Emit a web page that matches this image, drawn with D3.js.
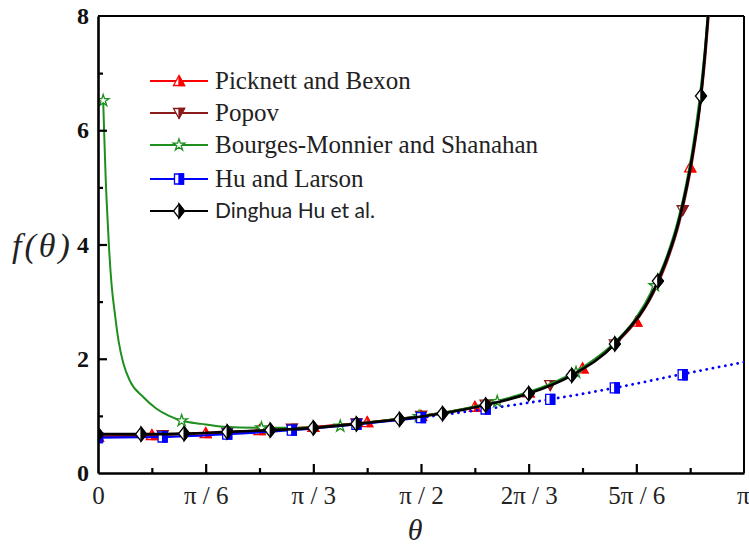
<!DOCTYPE html>
<html>
<head>
<meta charset="utf-8">
<script src="https://cdn.jsdelivr.net/npm/d3@7/dist/d3.min.js"></script>
<style>
  html, body { margin: 0; padding: 0; background: #fff; }
  svg { display: block; }
</style>
</head>
<body>
<svg id="chart" width="749" height="547"></svg>
<script>
// ---------- data (theta in units of pi) ----------
const xTickValues = [0, 1/6, 1/3, 1/2, 2/3, 5/6, 1];
const xTickLabels = ["0", "π / 6", "π / 3", "π / 2", "2π / 3", "5π / 6", "π"];
const xMinorTicks = [1/12, 3/12, 5/12, 7/12, 9/12, 11/12];
const yTickValues = [0, 2, 4, 6, 8];
const yMinorTicks = [1, 3, 5, 7];

const seriesNames = ["Picknett and Bexon", "Popov", "Bourges-Monnier and Shanahan", "Hu and Larson", "Dinghua Hu et al."];

// Picknett and Bexon
const pbTheta = [0, 0.05, 0.1, 0.15, 0.2, 0.25, 0.3, 0.35, 0.4, 0.45, 0.5, 0.55, 0.6, 0.65, 0.7, 0.75, 0.8, 0.83, 0.86, 0.88, 0.9, 0.91, 0.92, 0.93, 0.94, 0.95];
const pbF     = [0.637, 0.653, 0.672, 0.694, 0.719, 0.749, 0.783, 0.824, 0.872, 0.930, 1.000, 1.087, 1.201, 1.349, 1.547, 1.829, 2.258, 2.64, 3.19, 3.71, 4.44, 4.93, 5.54, 6.32, 7.37, 8.84];
const pbMarkTheta = [0, 1/12, 2/12, 3/12, 4/12, 5/12, 6/12, 7/12, 8/12, 9/12, 10/12, 11/12];
const pbMarkF     = [0.637, 0.665, 0.70, 0.749, 0.81, 0.89, 1.0, 1.16, 1.41, 1.83, 2.65, 5.35];

// Popov
const popTheta = [0, 0.05, 0.1, 0.15, 0.2, 0.25, 0.3, 0.35, 0.4, 0.45, 0.5, 0.55, 0.6, 0.65, 0.7, 0.75, 0.8, 0.83, 0.86, 0.88, 0.9, 0.91, 0.92, 0.93, 0.94, 0.95];
const popF     = [0.637, 0.648, 0.664, 0.684, 0.708, 0.738, 0.775, 0.818, 0.868, 0.928, 0.998, 1.085, 1.198, 1.345, 1.54, 1.82, 2.25, 2.61, 3.15, 3.67, 4.38, 4.87, 5.46, 6.22, 7.25, 8.7];
const popMarkTheta = [0.1, 0.2, 0.3, 0.4, 0.5, 0.6, 0.7, 0.8, 0.905];
const popMarkF     = [0.664, 0.708, 0.775, 0.868, 0.998, 1.198, 1.54, 2.25, 4.6];

// Bourges-Monnier and Shanahan
const bmsTheta = [0.008, 0.010, 0.012, 0.015, 0.017, 0.021, 0.026, 0.032, 0.039, 0.05, 0.07, 0.09, 0.11, 0.13, 0.16, 0.194, 0.25, 0.3, 0.35, 0.4, 0.45, 0.5, 0.55, 0.6, 0.65, 0.7, 0.75, 0.8, 0.83, 0.86, 0.88, 0.9, 0.91, 0.92, 0.93, 0.94, 0.95];
const bmsF     = [6.52, 5.8, 5.13, 4.4, 3.96, 3.3, 2.8, 2.3, 1.93, 1.6, 1.33, 1.13, 1.0, 0.916, 0.86, 0.81, 0.79, 0.79, 0.81, 0.86, 0.93, 1.0, 1.09, 1.21, 1.36, 1.56, 1.85, 2.29, 2.67, 3.25, 3.78, 4.52, 5.03, 5.65, 6.45, 7.5, 9.0];
const bmsMarkTheta = [0.008, 0.1295, 0.253, 0.375, 0.497, 0.618, 0.74, 0.862];
const bmsMarkF     = [6.52, 0.916, 0.79, 0.82, 0.99, 1.25, 1.76, 3.28];

// Hu and Larson (solid up to pi/2, dotted beyond)
const hlTheta = [0, 0.1, 0.2, 0.3, 0.4, 0.5, 0.6, 0.7, 0.8, 0.9, 1.0];
const hlF     = [0.62, 0.63, 0.68, 0.75, 0.85, 0.97, 1.12, 1.29, 1.49, 1.72, 1.94];
const hlSolidEnd = 0.5;
const hlMarkTheta = [0, 0.1, 0.2, 0.3, 0.4, 0.5, 0.6, 0.7, 0.8, 0.905];
const hlMarkF     = [0.62, 0.63, 0.68, 0.75, 0.85, 0.97, 1.12, 1.29, 1.49, 1.72];

// Dinghua Hu et al.
const dhTheta = [0, 1/15, 2/15, 3/15, 4/15, 5/15, 6/15, 7/15, 8/15, 9/15, 10/15, 11/15, 12/15, 13/15, 0.9, 0.92, 14/15, 0.94, 0.95];
const dhF     = [0.68, 0.68, 0.69, 0.72, 0.75, 0.79, 0.86, 0.94, 1.04, 1.19, 1.39, 1.71, 2.26, 3.36, 4.45, 5.55, 6.6, 7.4, 8.8];
const dhMarkTheta = [0, 1/15, 2/15, 3/15, 4/15, 5/15, 6/15, 7/15, 8/15, 9/15, 10/15, 11/15, 12/15, 13/15, 14/15];
const dhMarkF     = [0.68, 0.68, 0.69, 0.72, 0.75, 0.79, 0.86, 0.94, 1.04, 1.19, 1.39, 1.71, 2.26, 3.36, 6.6];

// ---------- layout ----------
const W = 749, H = 547;
const M = { left: 98, top: 16, right: 5, bottom: 74 };
const iw = W - M.left - M.right;   // 646
const ih = H - M.top - M.bottom;   // 457

const svg = d3.select("#chart");
const x = d3.scaleLinear().domain([0, 1]).range([0, iw]);
const y = d3.scaleLinear().domain([0, 8]).range([ih, 0]);

const g = svg.append("g").attr("transform", `translate(${M.left},${M.top})`);

svg.append("defs").append("clipPath").attr("id", "plotclip")
  .append("rect").attr("x", 0).attr("y", 0).attr("width", iw).attr("height", ih);

// frame (top and right)
g.append("line").attr("x1", 0).attr("x2", iw).attr("y1", 0).attr("y2", 0)
  .attr("stroke", "#000").attr("stroke-width", 2);
g.append("line").attr("x1", iw).attr("x2", iw).attr("y1", 0).attr("y2", ih)
  .attr("stroke", "#000").attr("stroke-width", 2);

// ---------- markers ----------
const shapes = {
  up:      { full: "M-5.5,4.5L5.5,4.5L0,-5.5Z", half: "M0,-5.5L5.5,4.5L0,4.5Z" },
  down:    { full: "M-5.5,-4.5L5.5,-4.5L0,5.5Z", half: "M0,5.5L5.5,-4.5L0,-4.5Z" },
  square:  { full: "M-4.5,-5L4.5,-5L4.5,5L-4.5,5Z", half: "M0,-5L4.5,-5L4.5,5L0,5Z" },
  diamond: { full: "M0,-7L5.5,0L0,7L-5.5,0Z", half: "M0,-7L5.5,0L0,7Z" },
  star:    { full: d3.symbol(d3.symbolStar, 42)(), half: null }
};

function drawMarker(sel, shape, color, cx, cy) {
  const mg = sel.append("g").attr("transform", `translate(${cx},${cy})`);
  mg.append("path").attr("d", shapes[shape].full)
    .attr("fill", "#fff").attr("stroke", color).attr("stroke-width", 1.3);
  if (shapes[shape].half) {
    mg.append("path").attr("d", shapes[shape].half)
      .attr("fill", color).attr("stroke", color).attr("stroke-width", 1.3);
  }
}

const lineGen = d3.line().x(d => x(d[0])).y(d => y(d[1])).curve(d3.curveMonotoneX);
const plot = g.append("g").attr("clip-path", "url(#plotclip)");

function zip(a, b) { return a.map((v, i) => [v, b[i]]); }

const series = [
  { name: seriesNames[0], color: "#ff0000", width: 2,   shape: "up",
    line: zip(pbTheta, pbF), marks: zip(pbMarkTheta, pbMarkF) },
  { name: seriesNames[1], color: "#8b1a1a", width: 2,   shape: "down",
    line: zip(popTheta, popF), marks: zip(popMarkTheta, popMarkF) },
  { name: seriesNames[2], color: "#1f8f1f", width: 2,   shape: "star",
    line: zip(bmsTheta, bmsF), marks: zip(bmsMarkTheta, bmsMarkF) },
  { name: seriesNames[3], color: "#0000ff", width: 2.2, shape: "square",
    line: zip(hlTheta, hlF), marks: zip(hlMarkTheta, hlMarkF), dottedFrom: hlSolidEnd },
  { name: seriesNames[4], color: "#000000", width: 2.6, shape: "diamond",
    line: zip(dhTheta, dhF), marks: zip(dhMarkTheta, dhMarkF) }
];

series.forEach(s => {
  if (s.dottedFrom !== undefined) {
    const solid = s.line.filter(d => d[0] <= s.dottedFrom);
    const dotted = s.line.filter(d => d[0] >= s.dottedFrom);
    plot.append("path").datum(solid).attr("d", lineGen)
      .attr("fill", "none").attr("stroke", s.color).attr("stroke-width", s.width);
    plot.append("path").datum(dotted).attr("d", lineGen)
      .attr("fill", "none").attr("stroke", s.color).attr("stroke-width", 2.8)
      .attr("stroke-linecap", "round").attr("stroke-dasharray", "0.1 6.2");
  } else {
    plot.append("path").datum(s.line).attr("d", lineGen)
      .attr("fill", "none").attr("stroke", s.color).attr("stroke-width", s.width);
  }
  s.marks.forEach(d => drawMarker(plot, s.shape, s.color, x(d[0]), y(d[1])));
});

// ---------- axes ----------
const xAxis = d3.axisBottom(x).tickValues(xTickValues).tickFormat((d, i) => xTickLabels[i])
  .tickSizeInner(-9).tickSizeOuter(0).tickPadding(20);
const xa = g.append("g").attr("transform", `translate(0,${ih})`).call(xAxis);
xa.select(".domain").attr("stroke", "#000").attr("stroke-width", 2.6);
xa.selectAll(".tick line").attr("stroke", "#000").attr("stroke-width", 2.2);
xa.selectAll(".tick text").attr("font-family", "'Liberation Serif', 'Times New Roman', serif")
  .attr("font-size", 25).attr("fill", "#222").attr("dy", "0.71em").attr("y", 13);
xa.selectAll(".tick").filter(d => d === 0 || d === 1).select("line").remove();
// last label sits at the right edge: anchor it to end inside the canvas
xa.selectAll(".tick").filter(d => d === 1).select("text")
  .attr("text-anchor", "end").attr("x", W - M.left - iw);

const xMinor = d3.axisBottom(x).tickValues(xMinorTicks).tickFormat("").tickSizeInner(-5).tickSizeOuter(0);
const xm = g.append("g").attr("transform", `translate(0,${ih})`).call(xMinor);
xm.select(".domain").remove();
xm.selectAll(".tick line").attr("stroke", "#000").attr("stroke-width", 2.2);

const yAxis = d3.axisLeft(y).tickValues(yTickValues).tickFormat(d3.format("d"))
  .tickSizeInner(-9).tickSizeOuter(0).tickPadding(10);
const ya = g.append("g").call(yAxis);
ya.select(".domain").attr("stroke", "#000").attr("stroke-width", 2.6);
ya.selectAll(".tick line").attr("stroke", "#000").attr("stroke-width", 2.2);
ya.selectAll(".tick text").attr("font-family", "'Liberation Serif', 'Times New Roman', serif")
  .attr("font-size", 24).attr("font-weight", "bold").attr("fill", "#111").attr("x", -9);
ya.selectAll(".tick").filter(d => d === 0 || d === 8).select("line").remove();

const yMinor = d3.axisLeft(y).tickValues(yMinorTicks).tickFormat("").tickSizeInner(-5).tickSizeOuter(0);
const ym = g.append("g").call(yMinor);
ym.select(".domain").remove();
ym.selectAll(".tick line").attr("stroke", "#000").attr("stroke-width", 2.2);

// axis titles
svg.append("text").attr("x", 415).attr("y", 540).attr("text-anchor", "middle")
  .attr("font-family", "'Liberation Serif', 'Times New Roman', serif")
  .attr("font-style", "italic").attr("font-size", 30).attr("fill", "#222").text("θ");

svg.append("text").attr("x", 12).attr("y", 257)
  .attr("font-family", "'Liberation Serif', 'Times New Roman', serif")
  .attr("font-style", "italic").attr("font-size", 34).attr("letter-spacing", 3)
  .attr("fill", "#222").text("f(θ)");

// ---------- legend ----------
const legendRowsY = [81, 113, 145, 179, 211];
const leg = svg.append("g");
series.forEach((s, i) => {
  const ly = legendRowsY[i];
  leg.append("line").attr("x1", 150).attr("x2", 208).attr("y1", ly).attr("y2", ly)
    .attr("stroke", s.color).attr("stroke-width", 2);
  drawMarker(leg, s.shape, s.color, 179, ly);
  const isLast = i === series.length - 1;
  leg.append("text").attr("x", 215).attr("y", ly + (isLast ? 7 : 8))
    .attr("font-family", isLast ? "Lato, 'Open Sans', sans-serif" : "'Liberation Serif', 'Times New Roman', serif")
    .attr("font-size", isLast ? 21 : 25)
    .attr("fill", "#222")
    .text(s.name);
});
</script>
</body>
</html>
